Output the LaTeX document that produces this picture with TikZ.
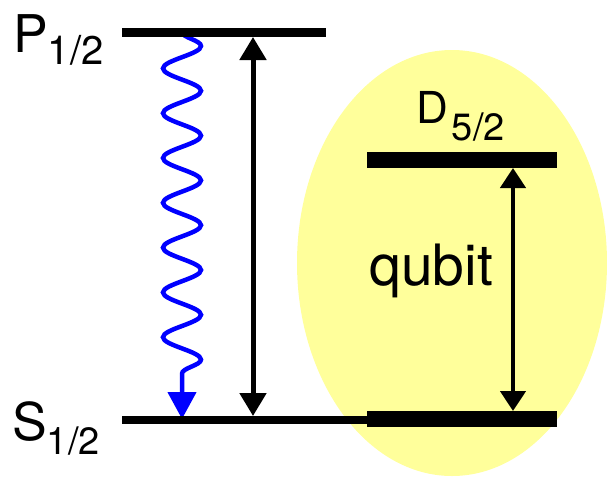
\documentclass[tikz,border=0pt]{standalone}
\usepackage{fontspec}
\setmainfont{TeX Gyre Heros}
\usetikzlibrary{arrows.meta, decorations.pathmorphing}
\definecolor{qubitbg}{RGB}{255,255,155}

\begin{document}
\begin{tikzpicture}[
    x=1pt, y=-1pt,
    level/.style={line width=9pt},
    thicklevel/.style={line width=16pt},
    pump/.style={line width=5pt, {Triangle[length=23pt,width=26pt]}-{Triangle[length=23pt,width=26pt]}},
    qarrow/.style={line width=4.5pt, {Triangle[length=20pt,width=25pt]}-{Triangle[length=20pt,width=25pt]}},
    decay/.style={blue, line width=4.5pt, decorate,
        decoration={snake, amplitude=19pt, segment length=44.8pt, post length=27.6pt},
        -{Triangle[length=27pt,width=28pt]}},
    lvltext/.style={inner sep=0pt, anchor=base west},
]
\useasboundingbox (0,0) rectangle (607,477);

% --- qubit ellipse ---
\fill[qubitbg] (452,263) ellipse[x radius=155pt, y radius=213pt];

% --- level end points ---
\coordinate (Pl) at (122,32);
\coordinate (Pr) at (326,32);
\coordinate (Sl) at (122,420);
\coordinate (Sm) at (367,420);
\coordinate (Dl) at (367,160);
\coordinate (Dr) at (557,160);
\coordinate (Ql) at (367,419);
\coordinate (Qr) at (557,419);

% --- decay (wavy) ---
\coordinate (decP) at (182,32);
\coordinate (decS) at (182,419);
\draw[decay] (decP) -- (decS);

% --- levels ---
\draw[level] (Pl) -- (Pr);
\draw[line width=8pt] (Sl) -- (Sm);
\draw[thicklevel] (Ql) -- (Qr);
\draw[thicklevel] (Dl) -- (Dr);

% --- transitions ---
\coordinate (pumpP) at (253,37);
\coordinate (pumpS) at (253,416);
\draw[pump] (pumpP) -- (pumpS);
\coordinate (qD) at (513,168);
\coordinate (qS) at (513,411);
\draw[qarrow] (qD) -- (qS);

% --- labels ---
\node[lvltext, font=\fontsize{52}{60}\selectfont] (Plab) at (13,52)
    {P\raisebox{-12pt}{\fontsize{40}{48}\selectfont 1/2}};
\node[lvltext, font=\fontsize{52}{60}\selectfont] (Slab) at (12,440)
    {S\raisebox{-14pt}{\fontsize{38}{46}\selectfont 1/2}};
\node[lvltext, font=\fontsize{44}{52}\selectfont] (Dlab) at (416,123)
    {D\kern4pt\raisebox{-17pt}{\fontsize{38}{46}\selectfont 5/2}};
\node[lvltext, font=\fontsize{57}{66}\selectfont] (qlab) at (369,285) {qubit};

\end{tikzpicture}
\end{document}
